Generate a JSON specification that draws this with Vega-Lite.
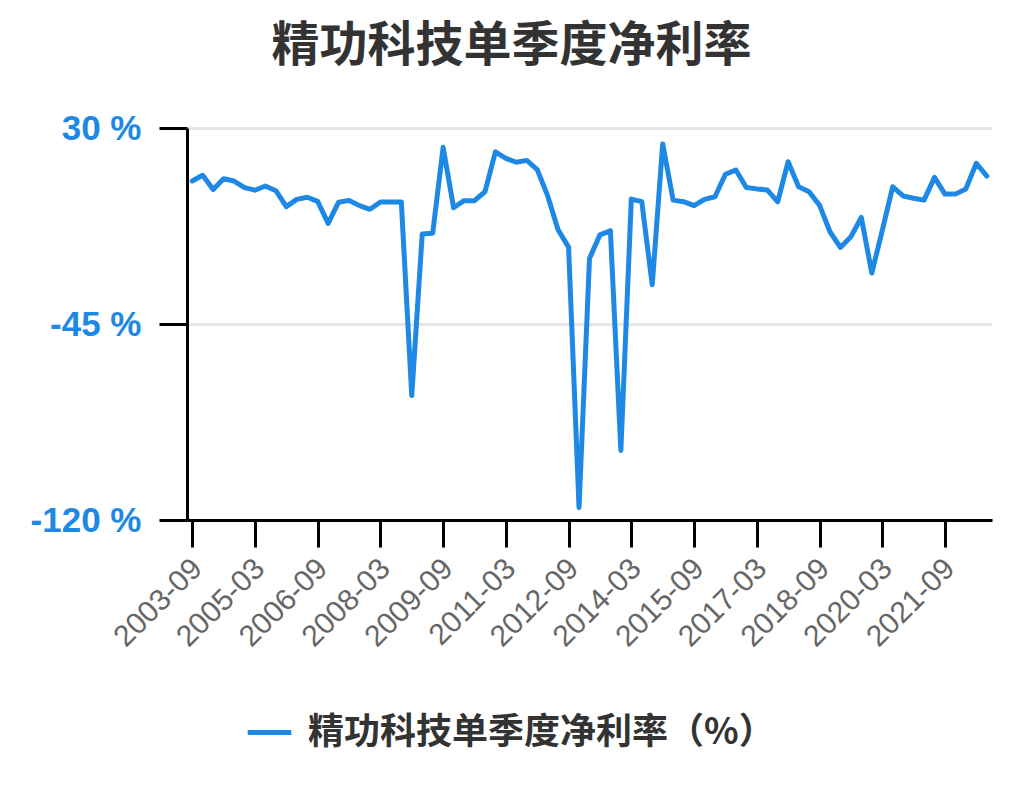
{
  "$schema": "https://vega.github.io/schema/vega-lite/v6.json",
  "description": "精功科技单季度净利率 quarterly line chart",
  "autosize": {"type": "none"},
  "padding": {"left": 187, "top": 128, "right": 31, "bottom": 290},
  "width": 805,
  "height": 392,
  "background": "white",
  "title": {
    "text": "精功科技单季度净利率",
    "font": "Noto Sans CJK SC",
    "fontSize": 48,
    "fontWeight": "bold",
    "color": "#333333",
    "anchor": "middle",
    "dx": -78,
    "offset": 40
  },
  "data": {
    "values": [
      {"q": "2003-09", "v": 9.7}, {"q": "2003-12", "v": 11.9}, {"q": "2004-03", "v": 6.5},
      {"q": "2004-06", "v": 10.6}, {"q": "2004-09", "v": 9.7}, {"q": "2004-12", "v": 7.2},
      {"q": "2005-03", "v": 6.2}, {"q": "2005-06", "v": 7.8}, {"q": "2005-09", "v": 6.0},
      {"q": "2005-12", "v": -0.1}, {"q": "2006-03", "v": 2.7}, {"q": "2006-06", "v": 3.5},
      {"q": "2006-09", "v": 1.9}, {"q": "2006-12", "v": -6.5}, {"q": "2007-03", "v": 1.6},
      {"q": "2007-06", "v": 2.3}, {"q": "2007-09", "v": 0.3}, {"q": "2007-12", "v": -1.1},
      {"q": "2008-03", "v": 1.7}, {"q": "2008-06", "v": 1.7}, {"q": "2008-09", "v": 1.7},
      {"q": "2008-12", "v": -72.4}, {"q": "2009-03", "v": -10.6}, {"q": "2009-06", "v": -10.3},
      {"q": "2009-09", "v": 22.6}, {"q": "2009-12", "v": -0.5}, {"q": "2010-03", "v": 2.2},
      {"q": "2010-06", "v": 2.2}, {"q": "2010-09", "v": 5.6}, {"q": "2010-12", "v": 20.9},
      {"q": "2011-03", "v": 18.4}, {"q": "2011-06", "v": 16.9}, {"q": "2011-09", "v": 17.6},
      {"q": "2011-12", "v": 14.1}, {"q": "2012-03", "v": 4.0}, {"q": "2012-06", "v": -9.0},
      {"q": "2012-09", "v": -15.6}, {"q": "2012-12", "v": -115.2}, {"q": "2013-03", "v": -19.9},
      {"q": "2013-06", "v": -10.9}, {"q": "2013-09", "v": -9.3}, {"q": "2013-12", "v": -93.4},
      {"q": "2014-03", "v": 2.8}, {"q": "2014-06", "v": 1.8}, {"q": "2014-09", "v": -30.0},
      {"q": "2014-12", "v": 23.9}, {"q": "2015-03", "v": 2.4}, {"q": "2015-06", "v": 1.8},
      {"q": "2015-09", "v": 0.3}, {"q": "2015-12", "v": 2.7}, {"q": "2016-03", "v": 3.7},
      {"q": "2016-06", "v": 12.3}, {"q": "2016-09", "v": 13.9}, {"q": "2016-12", "v": 7.2},
      {"q": "2017-03", "v": 6.7}, {"q": "2017-06", "v": 6.3}, {"q": "2017-09", "v": 1.7},
      {"q": "2017-12", "v": 17.1}, {"q": "2018-03", "v": 7.5}, {"q": "2018-06", "v": 5.6},
      {"q": "2018-09", "v": 0.5}, {"q": "2018-12", "v": -9.7}, {"q": "2019-03", "v": -15.7},
      {"q": "2019-06", "v": -11.6}, {"q": "2019-09", "v": -4.2}, {"q": "2019-12", "v": -25.5},
      {"q": "2020-03", "v": -9.3}, {"q": "2020-06", "v": 7.5}, {"q": "2020-09", "v": 4.0},
      {"q": "2020-12", "v": 3.1}, {"q": "2021-03", "v": 2.4}, {"q": "2021-06", "v": 11.1},
      {"q": "2021-09", "v": 4.7}, {"q": "2021-12", "v": 4.7}, {"q": "2022-03", "v": 6.7},
      {"q": "2022-06", "v": 16.5}, {"q": "2022-09", "v": 11.6}
    ]
  },
  "transform": [
    {"calculate": "'精功科技单季度净利率（%）'", "as": "series"}
  ],
  "mark": {"type": "line", "strokeWidth": 5, "strokeJoin": "round", "strokeCap": "round"},
  "encoding": {
    "x": {
      "field": "q",
      "type": "ordinal",
      "sort": null,
      "scale": {"type": "point", "padding": 0.5},
      "axis": {
        "title": null,
        "values": ["2003-09", "2005-03", "2006-09", "2008-03", "2009-09", "2011-03", "2012-09", "2014-03", "2015-09", "2017-03", "2018-09", "2020-03", "2021-09"],
        "labelAngle": -45,
        "labelFont": "Liberation Sans",
        "labelFontSize": 30,
        "labelColor": "#666666",
        "labelPadding": 6,
        "labelOffset": -6,
        "tickSize": 27,
        "tickWidth": 3,
        "tickColor": "#000000",
        "domainColor": "#000000",
        "domainWidth": 3,
        "grid": false
      }
    },
    "y": {
      "field": "v",
      "type": "quantitative",
      "scale": {"domain": [-120, 30], "nice": false, "zero": false},
      "axis": {
        "title": null,
        "values": [-120, -45, 30],
        "labelExpr": "datum.value + ' %'",
        "labelFont": "Liberation Sans",
        "labelFontSize": 35,
        "labelFontWeight": "bold",
        "labelColor": "#1e88e5",
        "labelPadding": 18,
        "tickSize": 28,
        "tickWidth": 3,
        "tickColor": "#000000",
        "domainColor": "#000000",
        "domainWidth": 3,
        "grid": true,
        "gridColor": "#e6e6e6",
        "gridWidth": 3
      }
    },
    "color": {
      "field": "series",
      "type": "nominal",
      "scale": {"range": ["#1e88e5"]},
      "legend": {
        "title": null,
        "orient": "none",
        "legendX": 58,
        "legendY": 580,
        "padding": 0,
        "symbolType": "stroke",
        "symbolStrokeWidth": 5,
        "symbolSize": 1900,
        "labelFont": "Noto Sans CJK SC",
        "labelFontSize": 36,
        "labelFontWeight": "bold",
        "labelColor": "#333333",
        "labelOffset": 14,
        "labelLimit": 0
      }
    }
  },
  "config": {
    "view": {"stroke": null}
  }
}
